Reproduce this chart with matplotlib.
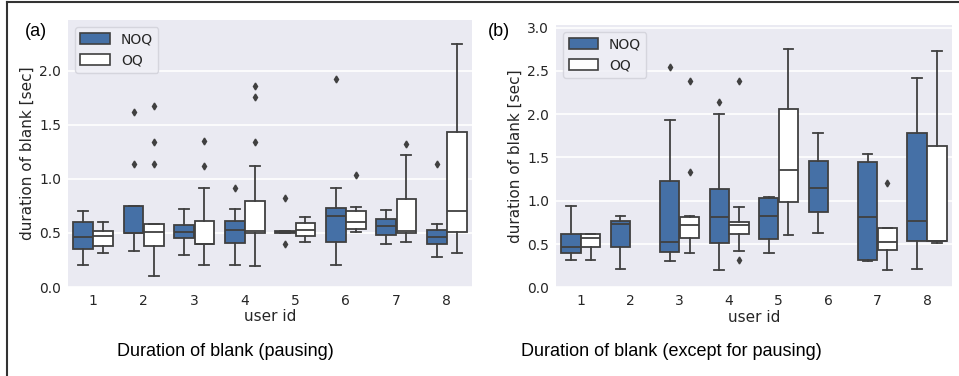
import matplotlib.pyplot as plt
from matplotlib.lines import Line2D
from matplotlib.patches import Patch

users = [1, 2, 3, 4, 5, 6, 7, 8]
groups = ["NOQ", "OQ"]
colors = {"NOQ": "#4570a6", "OQ": "#ffffff"}
edge = "#404040"

# (a) pausing: per user [whislo, q1, med, q3, whishi], fliers
a_noq = [[0.20, 0.35, 0.46, 0.60, 0.70], [0.33, 0.50, 0.50, 0.75, 0.75],
         [0.30, 0.45, 0.51, 0.57, 0.72], [0.20, 0.41, 0.53, 0.61, 0.72],
         [0.50, 0.50, 0.51, 0.52, 0.52], [0.20, 0.42, 0.66, 0.73, 0.92],
         [0.40, 0.48, 0.56, 0.63, 0.71], [0.28, 0.40, 0.465, 0.53, 0.585]]
a_noq_fl = [[], [1.62, 1.14], [], [0.92], [0.82, 0.40], [1.925], [], [1.14]]
a_oq = [[0.31, 0.38, 0.47, 0.52, 0.60], [0.10, 0.38, 0.51, 0.58, 0.58],
        [0.20, 0.40, 0.40, 0.61, 0.92], [0.19, 0.50, 0.52, 0.80, 1.12],
        [0.42, 0.47, 0.53, 0.59, 0.65], [0.51, 0.54, 0.60, 0.705, 0.74],
        [0.415, 0.50, 0.52, 0.81, 1.22], [0.31, 0.51, 0.705, 1.43, 2.25]]
a_oq_fl = [[], [1.67, 1.34, 1.14], [1.35, 1.115], [1.855, 1.76, 1.34], [], [1.035], [1.32], []]

# (b) except for pausing (None = no data)
b_noq = [[0.31, 0.40, 0.47, 0.62, 0.935], [0.21, 0.465, 0.73, 0.77, 0.82],
         [0.30, 0.41, 0.52, 1.23, 1.93], [0.20, 0.51, 0.81, 1.135, 2.00],
         [0.40, 0.56, 0.82, 1.035, 1.04], [0.627, 0.865, 1.146, 1.46, 1.785],
         [0.30, 0.31, 0.815, 1.446, 1.54], [0.21, 0.53, 0.77, 1.785, 2.42]]
b_noq_fl = [[], [], [2.55], [2.146], [], [], [], []]
b_oq = [[0.31, 0.465, 0.565, 0.61, 0.61], None,
        [0.40, 0.57, 0.715, 0.815, 0.82], [0.415, 0.61, 0.72, 0.75, 0.93],
        [0.60, 0.985, 1.36, 2.06, 2.75], None,
        [0.20, 0.435, 0.52, 0.69, 0.69], [0.51, 0.53, 0.54, 1.635, 2.73]]
b_oq_fl = [[], [], [2.38, 1.33], [2.385, 0.31], [], [], [1.21], []]


def draw_panel(ax, series, ylim, yticks):
    ax.set_facecolor("#eaeaf2")
    for sp in ax.spines.values():
        sp.set_visible(False)
    ax.grid(axis="y", color="white", lw=1.2)
    ax.set_axisbelow(True)
    for k, (name, vals, fl) in enumerate(series):
        stats, pos = [], []
        for i, v in enumerate(vals):
            if v is None:
                continue
            stats.append(dict(whislo=v[0], q1=v[1], med=v[2], q3=v[3], whishi=v[4], fliers=fl[i]))
            pos.append(i - 0.2 + 0.4 * k)
        ax.bxp(stats, positions=pos, widths=0.39, patch_artist=True,
               boxprops=dict(facecolor=colors[name], edgecolor=edge, lw=1.3),
               medianprops=dict(color=edge, lw=1.3),
               whiskerprops=dict(color=edge, lw=1.3),
               capprops=dict(color=edge, lw=1.3),
               flierprops=dict(marker="d", markersize=3.5, markerfacecolor=edge,
                               markeredgecolor=edge))
    ax.set_xlim(-0.5, 7.5)
    ax.set_ylim(*ylim)
    ax.set_xticks(range(len(users)))
    ax.set_xticklabels(users)
    ax.set_yticks(yticks)
    ax.set_yticklabels([f"{t:.1f}" for t in yticks])
    ax.tick_params(length=0, labelsize=10, labelcolor="#262626", pad=5)
    ax.set_xlabel("user id", fontsize=11, color="#262626", labelpad=1)
    ax.set_ylabel("duration of blank [sec]", fontsize=11, color="#262626", labelpad=3)
    handles = [Patch(facecolor=colors[g], edgecolor=edge, lw=1.2) for g in groups]
    leg = ax.legend(handles, groups, loc="upper left", fontsize=10, handlelength=2.1,
                    handleheight=0.8, frameon=True, facecolor="#eeeef5",
                    edgecolor="#d0d0d8", borderaxespad=0.5)
    for t in leg.get_texts():
        t.set_color("#262626")


fig = plt.figure(figsize=(9.59, 3.76), dpi=100)
ax1 = fig.add_axes([0.0709, 0.2367, 0.4213, 0.7101])
ax2 = fig.add_axes([0.5798, 0.2359, 0.4126, 0.6976])

draw_panel(ax1, [("NOQ", a_noq, a_noq_fl), ("OQ", a_oq, a_oq_fl)],
           (0, 2.47), [0.0, 0.5, 1.0, 1.5, 2.0])
draw_panel(ax2, [("NOQ", b_noq, b_noq_fl), ("OQ", b_oq, b_oq_fl)],
           (0, 3.03), [0.0, 0.5, 1.0, 1.5, 2.0, 2.5, 3.0])

fig.text(0.026, 0.915, "(a)", fontsize=13, family="Liberation Sans", va="center")
fig.text(0.509, 0.915, "(b)", fontsize=13, family="Liberation Sans", va="center")
fig.text(0.235, 0.066, "Duration of blank (pausing)", fontsize=13,
         family="Liberation Sans", ha="center", va="center")
fig.text(0.700, 0.066, "Duration of blank (except for pausing)", fontsize=13,
         family="Liberation Sans", ha="center", va="center")

# frame lines
fig.add_artist(Line2D([0.0078, 0.0078], [0, 0.994], transform=fig.transFigure,
                      color="#333333", lw=1.5))
fig.add_artist(Line2D([0.0078, 1], [0.994, 0.994], transform=fig.transFigure,
                      color="#333333", lw=1.5))

fig.savefig("out.png", dpi=100)
